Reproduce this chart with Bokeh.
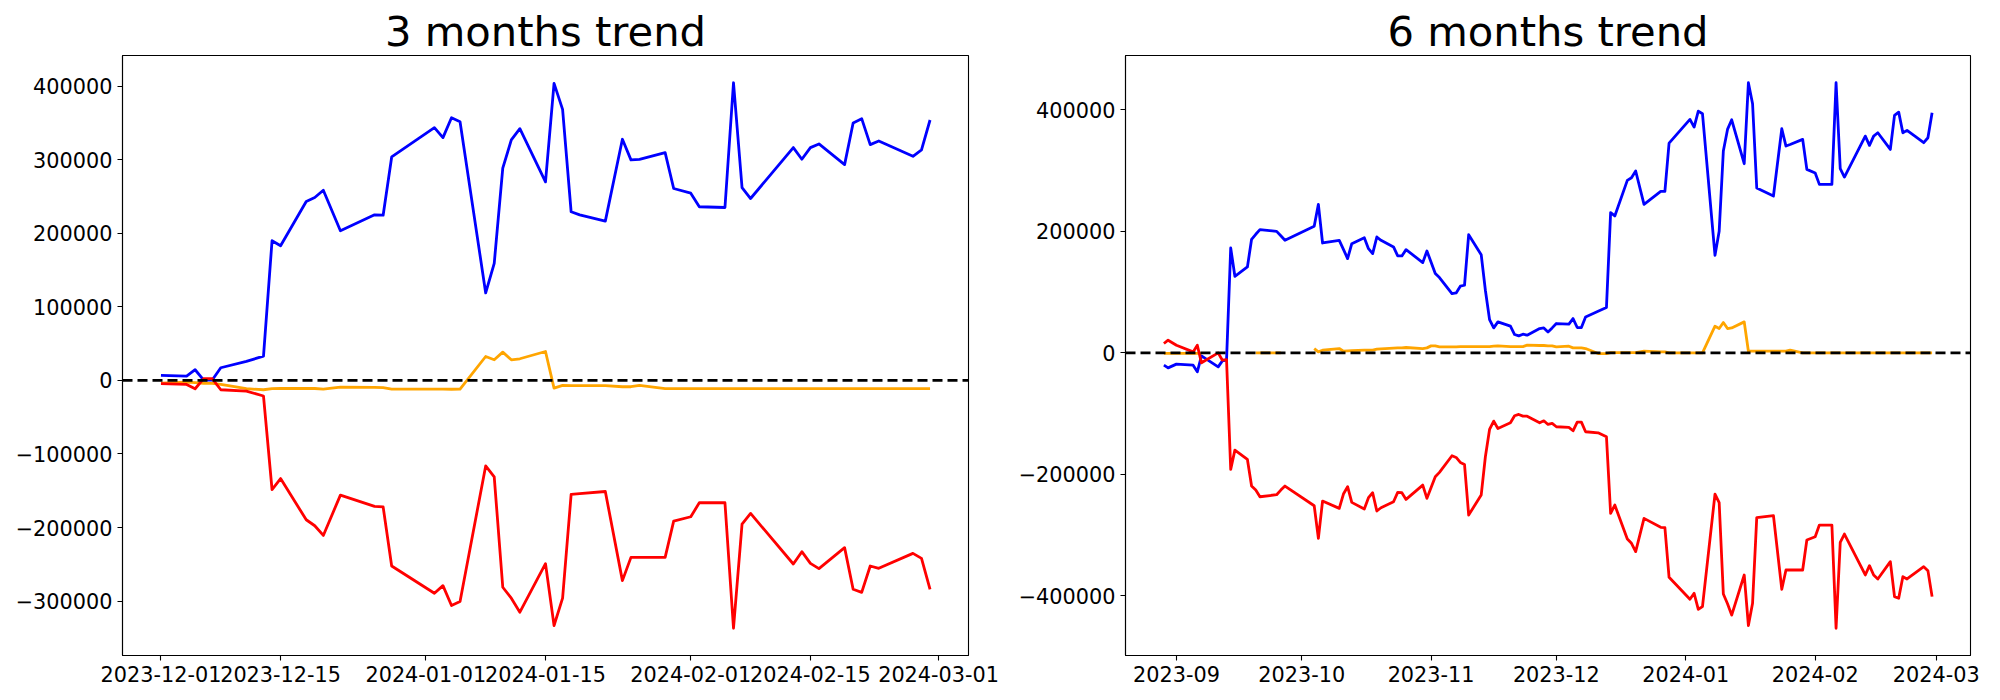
import numpy as np
import pandas as pd
from bokeh.plotting import figure
from bokeh.layouts import row
from bokeh.models import Range1d, FixedTicker, Span
from bokeh.embed import file_html
from bokeh.resources import INLINE

# ---------------- 3 months data ----------------
dates_3m = ["2023-12-01", "2023-12-04", "2023-12-05", "2023-12-06", "2023-12-07", "2023-12-08",
            "2023-12-11", "2023-12-13", "2023-12-14", "2023-12-15", "2023-12-18", "2023-12-19",
            "2023-12-20", "2023-12-22", "2023-12-26", "2023-12-27", "2023-12-28", "2024-01-02",
            "2024-01-03", "2024-01-04", "2024-01-05", "2024-01-08", "2024-01-09", "2024-01-10",
            "2024-01-11", "2024-01-12", "2024-01-15", "2024-01-16", "2024-01-17", "2024-01-18",
            "2024-01-19", "2024-01-22", "2024-01-24", "2024-01-25", "2024-01-26", "2024-01-29",
            "2024-01-30", "2024-02-01", "2024-02-02", "2024-02-05", "2024-02-06", "2024-02-07",
            "2024-02-08", "2024-02-13", "2024-02-14", "2024-02-15", "2024-02-16", "2024-02-19",
            "2024-02-20", "2024-02-21", "2024-02-22", "2024-02-23", "2024-02-27", "2024-02-28",
            "2024-02-29"]
blue_3m = [6800, 5900, 14500, 500, 500, 17200, 25800, 33000, 189800, 183000, 243200, 248600,
           258500, 203400, 225100, 224500, 303700, 343500, 330000, 357000, 351600, 118900,
           159100, 288400, 326800, 342100, 269800, 403700, 368400, 229200, 225000, 216500,
           327700, 299700, 300500, 309600, 260800, 254500, 236000, 235000, 404500, 262100,
           247200, 316400, 300600, 316400, 321400, 293300, 349800, 355700, 320400, 325400,
           304600, 313200, 353900]
orange_3m = [-3600, -2300, -3000, -4000, -4000, -5400, -11300, -12700, -11300, -11000, -10800,
             -11000, -11800, -9000, -9500, -9900, -11800, -11800, -11800, -12000, -11800, 32500,
             28000, 38400, 28000, 29400, 39300, -10400, -6800, -7200, -7200, -7200, -8600,
             -8600, -6800, -11300, -11300, -11300, -11300, -11300, -11300, -11300, -11300,
             -11300, -11300, -11300, -11300, -11300, -11300, -11300, -11300, -11300, -11300,
             -11300, -11300]
red_3m = [-4500, -5400, -11300, 2300, 2300, -12700, -14500, -21200, -148300, -133400, -189400,
          -197500, -210700, -155900, -171300, -171900, -252200, -289300, -278900, -306000,
          -300600, -116200, -131100, -281100, -296000, -315000, -249000, -333100, -296000,
          -155000, -154000, -151000, -272100, -240500, -240500, -240500, -191200, -185300,
          -166300, -166300, -336800, -195300, -180800, -249500, -232800, -248600, -255800,
          -227300, -283900, -288000, -252200, -255400, -235100, -241900, -283900]
xticks_3m = ["2023-12-01", "2023-12-15", "2024-01-01", "2024-01-15", "2024-02-01", "2024-02-15", "2024-03-01"]
xlabels_3m = ["2023-12-01", "2023-12-15", "2024-01-01", "2024-01-15", "2024-02-01", "2024-02-15", "2024-03-01"]
yticks_3m = [-300000, -200000, -100000, 0, 100000, 200000, 300000, 400000]

# ---------------- 6 months data ----------------
NaN = float("nan")
dates_6m = ["2023-08-29", "2023-08-30", "2023-09-01", "2023-09-05", "2023-09-06", "2023-09-07",
            "2023-09-11", "2023-09-12", "2023-09-13", "2023-09-14", "2023-09-15", "2023-09-18",
            "2023-09-19", "2023-09-20", "2023-09-21", "2023-09-25", "2023-09-26", "2023-09-27",
            "2023-10-04", "2023-10-05", "2023-10-06", "2023-10-10", "2023-10-11", "2023-10-12",
            "2023-10-13", "2023-10-16", "2023-10-17", "2023-10-18", "2023-10-19", "2023-10-20",
            "2023-10-23", "2023-10-24", "2023-10-25", "2023-10-26", "2023-10-30", "2023-10-31",
            "2023-11-01", "2023-11-02", "2023-11-03", "2023-11-06", "2023-11-07", "2023-11-08",
            "2023-11-09", "2023-11-10", "2023-11-13", "2023-11-14", "2023-11-15", "2023-11-16",
            "2023-11-17", "2023-11-20", "2023-11-21", "2023-11-22", "2023-11-23", "2023-11-24",
            "2023-11-27", "2023-11-28", "2023-11-29", "2023-11-30", "2023-12-01", "2023-12-04",
            "2023-12-05", "2023-12-06", "2023-12-07", "2023-12-08", "2023-12-11", "2023-12-13",
            "2023-12-14", "2023-12-15", "2023-12-18", "2023-12-19", "2023-12-20", "2023-12-22",
            "2023-12-26", "2023-12-27", "2023-12-28", "2024-01-02", "2024-01-03", "2024-01-04",
            "2024-01-05", "2024-01-08", "2024-01-09", "2024-01-10", "2024-01-11", "2024-01-12",
            "2024-01-15", "2024-01-16", "2024-01-17", "2024-01-18", "2024-01-22", "2024-01-24",
            "2024-01-25", "2024-01-26", "2024-01-29", "2024-01-30", "2024-02-01", "2024-02-02",
            "2024-02-05", "2024-02-06", "2024-02-07", "2024-02-08", "2024-02-13", "2024-02-14",
            "2024-02-15", "2024-02-16", "2024-02-19", "2024-02-20", "2024-02-21", "2024-02-22",
            "2024-02-23", "2024-02-27", "2024-02-28", "2024-02-29"]
blue_6m = [-20300, -24700, -18600, -20300, -31200, -4900, -23000, -13200, -12000, 172700, 126100,
           141500, 187000, 195200, 202900, 200100, 192700, 185300, 208400, 244500, 180900,
           185300, 170500, 155200, 179800, 189700, 171600, 163400, 190800, 185300, 174400,
           159600, 159600, 170000, 148600, 167800, 149100, 130500, 123900, 97600, 98700, 109700,
           111300, 194600, 161700, 103100, 54800, 41100, 51000, 43900, 30200, 28000, 30700,
           29100, 40000, 41100, 34500, 41100, 48300, 47200, 56500, 41700, 41700, 59200, 68500,
           74600, 230800, 225400, 284000, 288400, 299400, 244500, 265900, 265900, 345400,
           384400, 371700, 398100, 393700, 160700, 200100, 332300, 367900, 383800, 311400,
           444700, 410100, 271400, 258200, 369000, 340500, 343000, 351500, 302100, 296100,
           277400, 277400, 444700, 303200, 289500, 356900, 341600, 356900, 362400, 335000,
           390900, 396400, 362400, 366300, 346000, 354200, 395300]
orange_6m = [-1000, -1000, -1000, -1000, -1000, -1000, NaN, NaN, NaN, NaN, NaN, NaN, NaN, 0, 0,
             0, 0, NaN, 7100, 1600, 4400, 7100, 2700, 3300, 3800, 4400, 4400, 4400, 6000, 6600,
             7700, 8200, 8200, 8800, 7100, 8200, 11500, 11500, 9900, 9900, 9900, 10400, 10400,
             10400, 10400, 10400, 10400, 11000, 11500, 10400, 10400, 10400, 10400, 12600, 12100,
             12100, 11500, 11500, 9900, 11000, 8200, 8200, 8200, 7100, -1100, -1100, 500, 500,
             500, 500, 500, 2700, 1600, 1600, 0, 0, 0, 0, 0, 43900, 40000, 49900, 40000, 41100,
             51000, 2700, 2700, 2700, 2700, 2700, 2700, 4400, 0, 0, 0, 0, 0, 0, 0, 0, 0, 0, 0,
             0, 0, 0, 0, 0, 0, 0, 0, 0]
red_6m = [15400, 20800, 12600, 1600, 12600, -16400, 0, -12100, -11000, -191900, -160100, -175500,
          -219300, -225900, -236900, -233600, -226000, -219300, -251700, -305400, -244000,
          -256100, -232500, -220400, -246200, -257200, -238500, -230300, -260400, -255000,
          -245100, -229700, -230300, -241300, -217700, -239600, -221500, -204000, -196800,
          -169400, -172200, -180400, -183700, -267000, -234100, -171100, -126100, -112400,
          -124500, -115100, -103600, -101400, -104200, -104200, -115100, -111900, -117900,
          -116200, -121700, -122800, -128300, -114000, -114000, -129900, -131600, -138200,
          -264300, -250600, -306500, -313600, -327300, -272500, -287300, -287900, -369600,
          -405800, -395900, -422200, -417800, -232500, -246700, -397000, -413000, -431800,
          -365700, -449100, -412300, -271400, -268100, -389300, -357500, -357500, -357500,
          -308100, -302700, -283500, -283500, -453400, -312000, -298300, -365700, -350400,
          -365700, -372300, -343800, -401400, -404100, -368500, -372300, -352000, -358600,
          -401400]
xticks_6m = ["2023-09-01", "2023-10-01", "2023-11-01", "2023-12-01", "2024-01-01", "2024-02-01", "2024-03-01"]
xlabels_6m = ["2023-09", "2023-10", "2023-11", "2023-12", "2024-01", "2024-02", "2024-03"]
yticks_6m = [-400000, -200000, 0, 200000, 400000]

FONT = "DejaVu Sans"


def to_ms(ds):
    idx = pd.to_datetime(ds)
    return np.asarray((idx - pd.Timestamp("1970-01-01")) // pd.Timedelta(milliseconds=1), dtype=float)


def panel(title, dates, blue, orange, red, xticks, xlabels, yticks, width, bl, br):
    x = to_ms(dates)
    b = np.array(blue, dtype=float)
    o = np.array(orange, dtype=float)
    r = np.array(red, dtype=float)
    allv = np.concatenate([b, o, r])
    lo, hi = np.nanmin(allv), np.nanmax(allv)
    ypad = 0.05 * (hi - lo)
    xpad = 0.05 * (x.max() - x.min())
    p = figure(width=width, height=692, output_backend="svg", toolbar_location=None,
               x_range=Range1d(x.min() - xpad, x.max() + xpad),
               y_range=Range1d(lo - ypad, hi + ypad),
               min_border_left=bl, min_border_right=br, min_border_top=55, min_border_bottom=37)
    p.title.text = title
    p.title.text_font = FONT
    p.title.text_font_size = "41.7px"
    p.title.text_font_style = "normal"
    p.title.text_color = "black"
    p.title.align = "center"
    p.title.standoff = 0
    p.background_fill_color = "white"
    p.border_fill_color = "white"
    p.outline_line_color = "black"
    p.outline_line_width = 1.1
    p.grid.visible = False

    p.line(x, b, line_color="blue", line_width=2.8, line_join="round")
    p.line(x, o, line_color="orange", line_width=2.8, line_join="round")
    p.line(x, r, line_color="red", line_width=2.8, line_join="round")
    p.add_layout(Span(location=0, dimension="width", line_color="black",
                      line_dash="10 5", line_width=2.8))

    xt = to_ms(xticks)
    p.xaxis.ticker = FixedTicker(ticks=[float(v) for v in xt])
    p.xaxis.major_label_overrides = {int(v): lab for v, lab in zip(xt, xlabels)}
    p.yaxis.ticker = FixedTicker(ticks=yticks)
    p.yaxis.major_label_overrides = {v: str(v).replace("-", "\u2212") for v in yticks}
    for ax in (p.xaxis[0], p.yaxis[0]):
        ax.axis_line_color = "black"
        ax.axis_line_width = 1.1
        ax.major_tick_line_color = "black"
        ax.major_tick_line_width = 1.1
        ax.major_tick_out = 5
        ax.major_tick_in = 0
        ax.minor_tick_line_color = None
        ax.major_label_text_font = FONT
        ax.major_label_text_font_size = "20.8px"
        ax.major_label_text_color = "black"
        ax.major_label_standoff = 5
    return p


p1 = panel("3 months trend", dates_3m, blue_3m, orange_3m, red_3m,
           xticks_3m, xlabels_3m, yticks_3m, 1008, 122, 40)
p2 = panel("6 months trend", dates_6m, blue_6m, orange_6m, red_6m,
           xticks_6m, xlabels_6m, yticks_6m, 987, 117, 25)

layout = row(p1, p2)
open("out.html", "w").write(file_html(layout, INLINE))
